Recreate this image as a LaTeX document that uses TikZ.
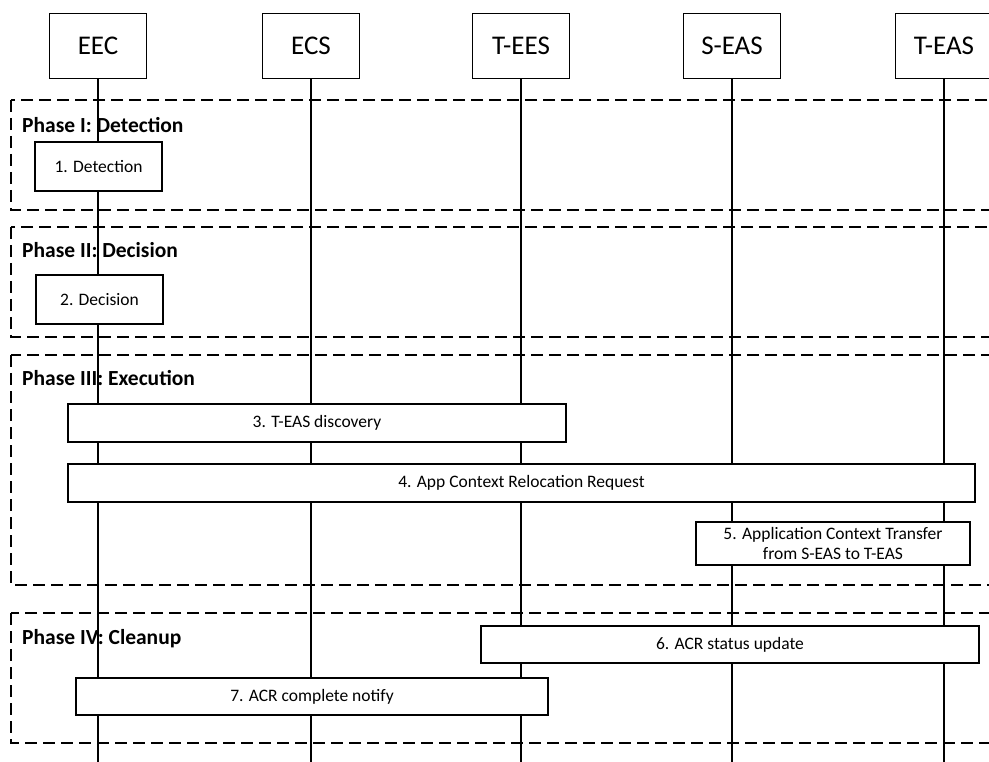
\documentclass[tikz,border=0pt]{standalone}
\usepackage{fontspec}
\setmainfont{Carlito}
\usetikzlibrary{positioning}
\tikzset{
  actor/.style ={rectangle, draw, line width=1.4pt, minimum width=97pt, minimum height=65pt, font=\fontsize{27}{31}\selectfont},
  stepbox/.style ={rectangle, draw, line width=1.4pt, fill=white, align=center, inner sep=2pt, font=\fontsize{17.5}{20}\selectfont},
  life/.style ={line width=1.2pt},
  phase/.style ={line width=1.5pt, dash pattern=on 12pt off 6pt},
  plbl/.style ={anchor=west, inner sep=0pt, font=\fontsize{21.5}{25}\selectfont\bfseries},
}
\begin{document}
\begin{tikzpicture}[x=1pt, y=-1pt]
  \useasboundingbox (0,0) rectangle (989,762);
  \clip (0,0) rectangle (989,762);
  % phases
  \draw[phase] (11,100) rectangle (1010,210);
  \draw[phase] (11,227) rectangle (1010,337);
  \draw[phase] (11,355) rectangle (1010,585);
  \draw[phase] (11,613) rectangle (1010,743);
  \node[plbl] (p1) at (22,125) {Phase I: Detection};
  \node[plbl] (p2) at (22,250) {Phase II: Decision};
  \node[plbl] (p3) at (22,378) {Phase III: Execution};
  \node[plbl] (p4) at (22,639) {Phase IV: Cleanup};
  % actors and lifelines
  \node[actor] (eec)  at (98,46)  {EEC};
  \node[actor] (ecs)  at (311,46) {ECS};
  \node[actor] (tees) at (521,46) {T-EES};
  \node[actor] (seas) at (732,46) {S-EAS};
  \node[actor] (teas) at (944,46) {T-EAS};
  \foreach \a in {eec,ecs,tees,seas,teas}{
    \coordinate (\a-end) at (\a.center |- 0,770);
    \draw[life] (\a.south) -- (\a-end);
  }
  % steps
  \node[stepbox, minimum width=127pt, minimum height=49pt] (s1) at (98.5,166.5) {1. Detection};
  \node[stepbox, minimum width=127pt, minimum height=49pt] (s2) at (99.5,299.5) {2. Decision};
  \node[stepbox, minimum width=498pt, minimum height=38pt] (s3) at (317,423) {3. T-EAS discovery};
  \node[stepbox, minimum width=907pt, minimum height=38pt] (s4) at (521.5,483) {4. App Context Relocation Request};
  \node[stepbox, minimum width=274pt, minimum height=43pt] (s5) at (833,543.5) {5. Application Context Transfer\\from S-EAS to T-EAS};
  \node[stepbox, minimum width=498pt, minimum height=37pt] (s6) at (730,644.5) {6. ACR status update};
  \node[stepbox, minimum width=472pt, minimum height=37pt] (s7) at (312,696.5) {7. ACR complete notify};
\end{tikzpicture}
\end{document}
